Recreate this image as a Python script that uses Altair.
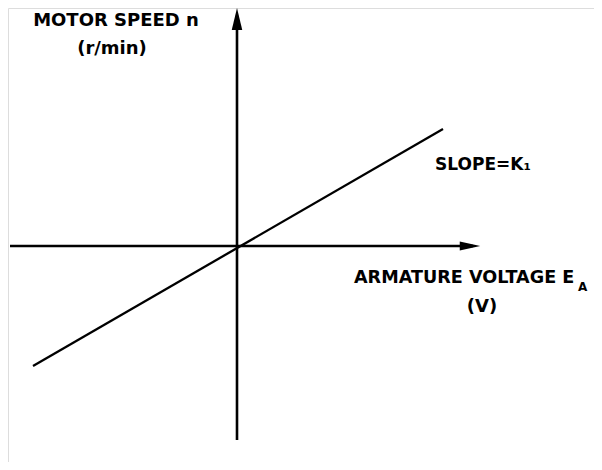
import altair as alt
import pandas as pd

# Characteristic line: armature voltage E_A vs motor speed n (arbitrary units)
voltage = [-2.04, 2.06]
speed = [-1.20, 1.17]

# Axis extents (arbitrary units)
x_axis_ends = [-2.27, 2.36]
y_axis_ends = [-1.94, 2.20]
x_arrow_tip = 2.43
y_arrow_tip = 2.38

X_DOM = [-2.29, 3.57]
Y_DOM = [-2.16, 2.38]
FONT = "DejaVu Sans"

xs = alt.Scale(domain=X_DOM, nice=False, zero=False)
ys = alt.Scale(domain=Y_DOM, nice=False, zero=False)

line_df = pd.DataFrame({"E": voltage, "n": speed})
line = alt.Chart(line_df).mark_line(color="black", strokeWidth=2.3).encode(
    x=alt.X("E:Q", scale=xs, axis=None),
    y=alt.Y("n:Q", scale=ys, axis=None),
)

hax_df = pd.DataFrame({"x": x_axis_ends, "y": [0, 0]})
hax = alt.Chart(hax_df).mark_line(color="black", strokeWidth=2.6).encode(
    x=alt.X("x:Q", scale=xs, axis=None), y=alt.Y("y:Q", scale=ys, axis=None)
)
vax_df = pd.DataFrame({"x": [0, 0], "y": y_axis_ends})
vax = alt.Chart(vax_df).mark_line(color="black", strokeWidth=2.6).encode(
    x=alt.X("x:Q", scale=xs, axis=None), y=alt.Y("y:Q", scale=ys, axis=None)
)

harrow = alt.Chart(pd.DataFrame({"x": [x_arrow_tip - 0.10], "y": [0]})).mark_point(
    shape="M-1,-0.45L1,0L-1,0.45Z", size=420, filled=True, color="black", opacity=1
).encode(x=alt.X("x:Q", scale=xs, axis=None), y=alt.Y("y:Q", scale=ys, axis=None))

varrow = alt.Chart(pd.DataFrame({"x": [0], "y": [y_arrow_tip - 0.11]})).mark_point(
    shape="M-0.48,1L0,-1L0.48,1Z", size=480, filled=True, color="black", opacity=1
).encode(x=alt.X("x:Q", scale=xs, axis=None), y=alt.Y("y:Q", scale=ys, axis=None))


def label(txt, x, y, align="left", size=18):
    return alt.Chart(pd.DataFrame({"x": [x], "y": [y], "t": [txt]})).mark_text(
        font=FONT, fontWeight="bold", fontSize=size, align=align, baseline="middle", color="black"
    ).encode(
        x=alt.X("x:Q", scale=xs, axis=None),
        y=alt.Y("y:Q", scale=ys, axis=None),
        text="t:N",
    )


texts = [
    label("MOTOR SPEED n", -1.21, 2.25, "center"),
    label("(r/min)", -1.25, 1.97, "center"),
    label("SLOPE=K\u2081", 1.98, 0.81, size=17),
    label("ARMATURE VOLTAGE E", 1.17, -0.32, size=17.6),
    label("A", 3.41, -0.41, size=12),
    label("(V)", 2.45, -0.61, "center"),
]

chart = alt.layer(line, hax, vax, harrow, varrow, *texts).properties(
    width=586, height=454, autosize=alt.AutoSizeParams(type="none"), padding=0
).configure_view(strokeWidth=0, stroke="transparent").configure(background="white")

chart.save("out.html", embed_options={"renderer": "svg", "actions": False})
